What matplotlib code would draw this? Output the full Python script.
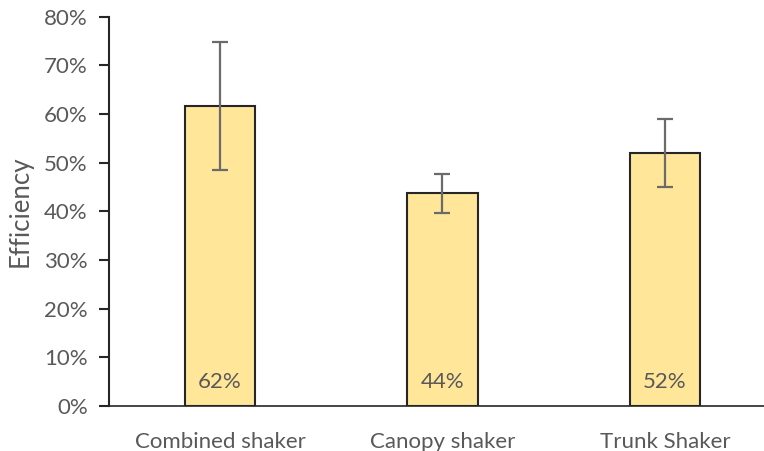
import numpy as np
import matplotlib.pyplot as plt
from matplotlib.ticker import PercentFormatter

categories = ["Combined shaker", "Canopy shaker", "Trunk Shaker"]
efficiency = [61.6, 43.7, 52.0]
errors = [13.1, 4.05, 7.0]
labels = ["62%", "44%", "52%"]

plt.rcParams['font.family'] = ['Lato', 'DejaVu Sans']
grey = '#595959'

fig = plt.figure(figsize=(7.64, 4.51), dpi=100)
ax = fig.add_axes([108.5 / 764, 45 / 451, 1 - 108.5 / 764, (406 - 16.7) / 451])

x = np.arange(len(categories))
ax.bar(x, efficiency, width=0.315, color='#FFE699', edgecolor='#262626', linewidth=1.5, zorder=2)
ax.errorbar(x, efficiency, yerr=errors, fmt='none', ecolor='#6b6b6b', elinewidth=1.6,
            capsize=6, capthick=1.6, zorder=3)

for xi, lab in zip(x, labels):
    ax.text(xi, 2.9, lab, ha='center', va='bottom', fontsize=16, color=grey, zorder=4)

ax.set_xlim(-0.501, 2.445)
ax.set_ylim(0, 80)
ax.set_yticks(np.arange(0, 81, 10))
ax.yaxis.set_major_formatter(PercentFormatter(decimals=0))
ax.set_xticks(x)
ax.set_xticklabels(categories)
ax.tick_params(axis='x', length=0, pad=19, labelsize=16, labelcolor=grey)
ax.tick_params(axis='y', length=7, width=1.5, color='#262626', pad=8, labelsize=16, labelcolor=grey)
ax.set_ylabel("Efficiency", fontsize=18.5, color=grey, labelpad=8)

for s in ['top', 'right']:
    ax.spines[s].set_visible(False)
ax.spines['left'].set_color('#262626')
ax.spines['left'].set_linewidth(1.5)
ax.spines['bottom'].set_color('#262626')
ax.spines['bottom'].set_linewidth(1.2)

fig.savefig("out.png", dpi=100)
